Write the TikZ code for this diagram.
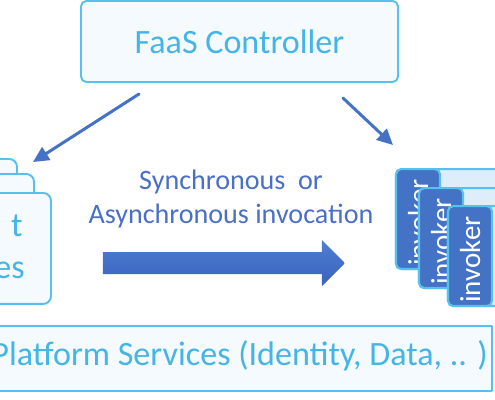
\documentclass[tikz,border=0pt]{standalone}
\usepackage{fontspec}
\setmainfont{Carlito}
\usetikzlibrary{arrows.meta}
\definecolor{skyline}{HTML}{56C1EE}
\definecolor{skytext}{HTML}{45B5E6}
\definecolor{paleback}{HTML}{F5FAFE}
\definecolor{invback}{HTML}{DDEDFA}
\definecolor{deepblue}{HTML}{4472C4}
\definecolor{midblue}{HTML}{4A6FC6}

\begin{document}
\begin{tikzpicture}[x=0.02cm, y=-0.02cm, line cap=round, line join=round,
  >={Triangle[length=9pt,width=8.5pt]},
  box/.style={draw=skyline, line width=1.1pt, fill=paleback, inner sep=0pt},
  big/.style={text=skytext, font=\fontsize{19.4}{23}\selectfont},
  flow/.style={->, draw=deepblue, line width=1.7pt},
  invpanel/.style={draw=skyline, line width=1.2pt, fill=invback, rounded corners=3pt,
    minimum width=3cm, minimum height=2cm, anchor=north west, inner sep=0pt},
  invtab/.style={draw=skyline, line width=1.2pt, fill=deepblue, rounded corners=3pt,
    minimum width=0.88cm, minimum height=2cm, anchor=north west, inner sep=0pt,
    label={[rotate=90, text=white, font=\fontsize{16.5}{18}\selectfont, xshift=-2pt]center:invoker}}]
  \useasboundingbox (0,0) rectangle (495,400);

  % controller
  \node[box, rounded corners=3pt, minimum width=6.34cm, minimum height=1.62cm, big]
    (ctrl) at (239.5,41.5) {FaaS Controller};

  % event sources, stacked
  \node[box, rounded corners=4.5pt, minimum width=2cm, minimum height=2.2cm, anchor=north east]
    (src3) at (18,158) {};
  \node[box, rounded corners=4.5pt, minimum width=2cm, minimum height=2.2cm, anchor=north east]
    (src2) at (35,173) {};
  \node[box, rounded corners=4.5pt, minimum width=2.2cm, minimum height=2.22cm, anchor=north east]
    (src1) at (52,192) {};
  \node[big, anchor=base east, inner sep=0pt] (srcA) at (23,236) {t};
  \node[big, anchor=base east, inner sep=0pt] (srcB) at (25,278) {es};

  % invokers
  \foreach \x/\y [count=\i] in {395/168, 418/187, 447/205} {
    \node[invpanel] (panel\i) at (\x,\y) {};
    \node[invtab] (inv\i) at (\x,\y) {};
  }

  % controller to both sides
  \draw[flow] ([shift={(59,11)}]ctrl.south west) -- ([shift={(15,4)}]src3.north east);
  \draw[flow] ([shift={(-56,15)}]ctrl.south east) -- ([shift={(-2,-23)}]panel1.north west);

  % invocation
  \node[text=midblue, align=center, font=\fontsize{16}{19.9}\selectfont]
    (mode) at (231,199) {Synchronous~ or\\Asynchronous invocation};
  \shade[top color={rgb,255:red,78;green,126;blue,210}, bottom color={rgb,255:red,58;green,98;blue,190}]
    (103,252) -- (322,252) -- (322,240) -- (345,263) -- (322,286) -- (322,274) -- (103,274) -- cycle;

  % platform services
  \node[box, minimum width=10.4cm, minimum height=1.3cm, anchor=north east]
    (platform) at (493,325) {};
  \node[big, anchor=base east, inner sep=0pt] (platformtext) at (488,365)
    {Platform Services (Identity, Data, .. )};
\end{tikzpicture}
\end{document}
